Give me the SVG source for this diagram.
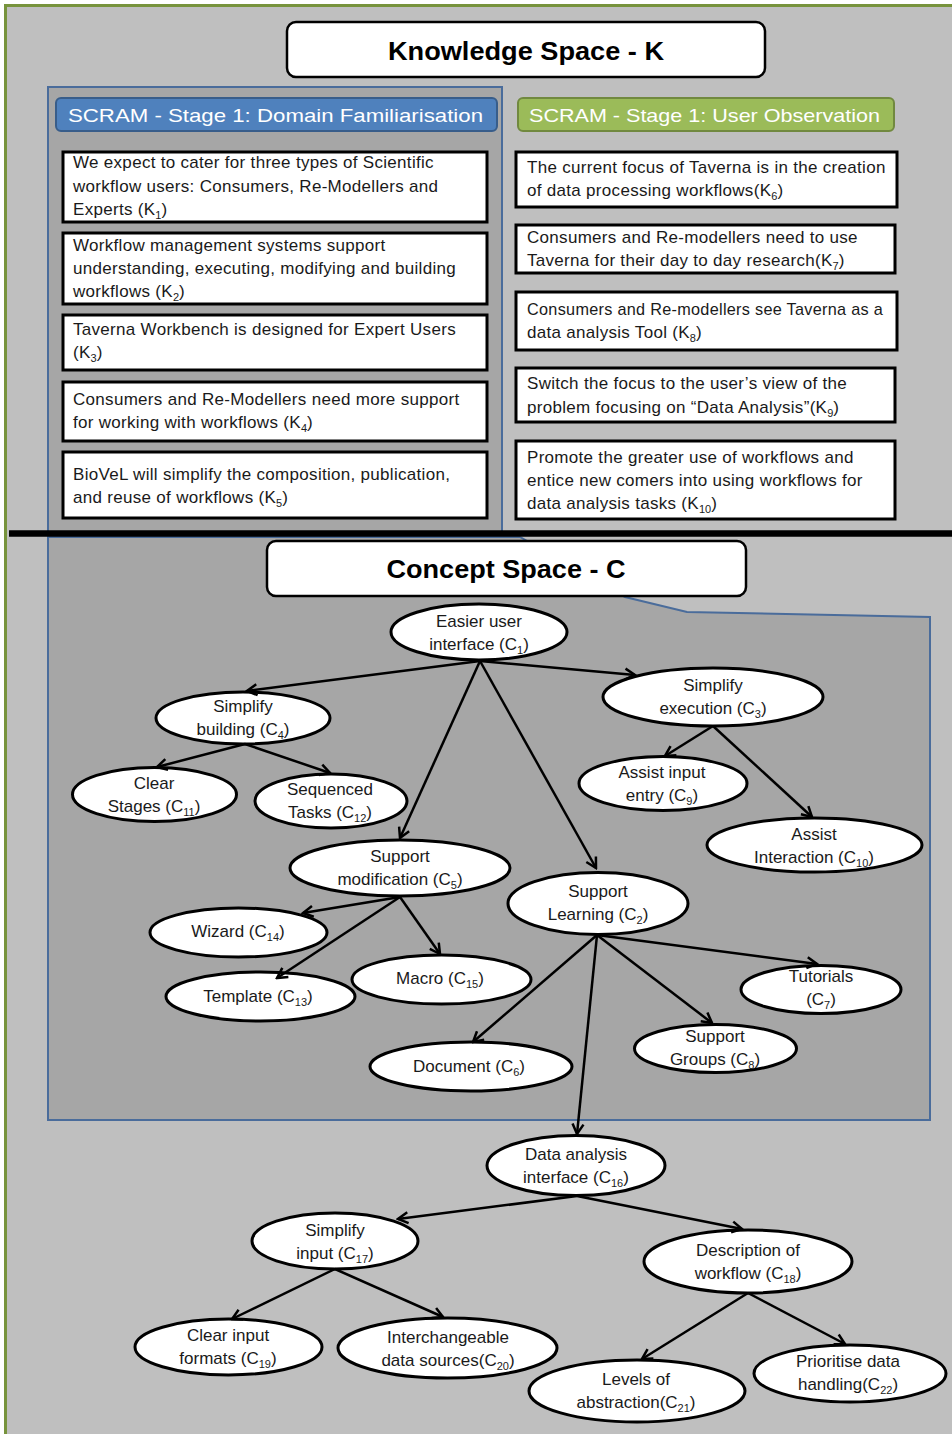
<svg xmlns="http://www.w3.org/2000/svg" width="952" height="1434" viewBox="0 0 952 1434">
  <defs>
    <style>
      .frame { fill: #bfbfbf; stroke: #77933c; stroke-width: 3; }
      .panel { fill: #a6a6a6; stroke: #4a6c9b; stroke-width: 2; }
      .title-box { fill: #ffffff; stroke: #000000; stroke-width: 2.5; }
      .title { font-family: "Liberation Sans", Arial, sans-serif; font-weight: bold; font-size: 25px; fill: #000; text-anchor: middle; }
      .pill-blue { fill: #4f81bd; stroke: #385d8a; stroke-width: 2; }
      .pill-green { fill: #9bbb59; stroke: #71893f; stroke-width: 2; }
      .pill-text { font-family: "Liberation Sans", Arial, sans-serif; font-size: 19px; fill: #ffffff; }
      .kbox { fill: #ffffff; stroke: #000000; stroke-width: 3; }
      .ktext { font-family: "Liberation Sans", Arial, sans-serif; font-size: 17px; letter-spacing: 0.3px; fill: #1a1a1a; }
      .node { fill: #ffffff; stroke: #000000; stroke-width: 3; }
      .ntext { font-family: "Liberation Sans", Arial, sans-serif; font-size: 17px; fill: #1a1a1a; text-anchor: middle; }
      .sub { font-size: 11px; letter-spacing: 0; }
      .edge { stroke: #000000; stroke-width: 2.5; fill: none; marker-end: url(#arrow); }
    </style>
    <marker id="arrow" markerUnits="userSpaceOnUse" markerWidth="14" markerHeight="14" viewBox="0 0 14 14" refX="12" refY="7" orient="auto">
      <path d="M2,1.5 L12,7 L2,12.5" fill="none" stroke="#000" stroke-width="2.5"/>
    </marker>
  </defs>

  <!-- page background and outer frame -->
  <rect x="0" y="0" width="952" height="1434" fill="#ffffff"/>
  <rect class="frame" x="5.5" y="5.5" width="970" height="1450"/>

  <!-- knowledge space: domain familiarisation panel -->
  <rect class="panel" x="48" y="87" width="454" height="452"/>

  <!-- concept space region -->
  <polygon class="panel" points="48,537 520,537 625,597 687,612 930,617 930,1120 48,1120"/>

  <!-- divider between the two spaces -->
  <line x1="9" y1="533.5" x2="952" y2="533.5" stroke="#000" stroke-width="6.5"/>

  <!-- titles -->
  <g id="title-knowledge">
    <rect class="title-box" x="287" y="22" width="478" height="55" rx="9"/>
    <text class="title" x="526" y="60" textLength="276" lengthAdjust="spacingAndGlyphs">Knowledge Space - K</text>
  </g>
  <g id="title-concept">
    <rect class="title-box" x="267" y="541" width="479" height="55" rx="9"/>
    <text class="title" x="506" y="578" textLength="239" lengthAdjust="spacingAndGlyphs">Concept Space - C</text>
  </g>

  <!-- stage headers -->
  <g id="stage-domain">
    <rect class="pill-blue" x="56" y="98" width="441" height="33" rx="5"/>
    <text class="pill-text" x="68" y="122" textLength="415" lengthAdjust="spacingAndGlyphs">SCRAM -  Stage 1: Domain Familiarisation</text>
  </g>
  <g id="stage-observation">
    <rect class="pill-green" x="518" y="98" width="376" height="33" rx="5"/>
    <text class="pill-text" x="529" y="122" textLength="351" lengthAdjust="spacingAndGlyphs">SCRAM - Stage 1: User Observation</text>
  </g>

  <!-- knowledge statements, left column -->
  <g id="K1">
    <rect class="kbox" x="63" y="152" width="424" height="70"/>
    <text class="ktext" x="73" y="168">We expect to cater for three types of Scientific</text>
    <text class="ktext" x="73" y="192">workflow users: Consumers, Re-Modellers and</text>
    <text class="ktext" x="73" y="215">Experts (K<tspan class="sub" dy="4">1</tspan><tspan dy="-4">)</tspan></text>
  </g>
  <g id="K2">
    <rect class="kbox" x="63" y="233" width="424" height="71"/>
    <text class="ktext" x="73" y="251">Workflow management systems support</text>
    <text class="ktext" x="73" y="274">understanding, executing, modifying and building</text>
    <text class="ktext" x="73" y="297">workflows (K<tspan class="sub" dy="4">2</tspan><tspan dy="-4">)</tspan></text>
  </g>
  <g id="K3">
    <rect class="kbox" x="63" y="315" width="424" height="55"/>
    <text class="ktext" x="73" y="335">Taverna Workbench is designed  for Expert Users</text>
    <text class="ktext" x="73" y="358">(K<tspan class="sub" dy="4">3</tspan><tspan dy="-4">)</tspan></text>
  </g>
  <g id="K4">
    <rect class="kbox" x="63" y="382" width="424" height="59"/>
    <text class="ktext" x="73" y="405">Consumers and Re-Modellers need  more support</text>
    <text class="ktext" x="73" y="428">for working with workflows (K<tspan class="sub" dy="4">4</tspan><tspan dy="-4">)</tspan></text>
  </g>
  <g id="K5">
    <rect class="kbox" x="63" y="452" width="424" height="66"/>
    <text class="ktext" x="73" y="480">BioVeL  will simplify the composition, publication,</text>
    <text class="ktext" x="73" y="503">and reuse of workflows (K<tspan class="sub" dy="4">5</tspan><tspan dy="-4">)</tspan></text>
  </g>

  <!-- knowledge statements, right column -->
  <g id="K6">
    <rect class="kbox" x="516" y="152" width="381" height="55"/>
    <text class="ktext" x="527" y="173">The current focus of Taverna is in the creation</text>
    <text class="ktext" x="527" y="196">of data processing workflows(K<tspan class="sub" dy="4">6</tspan><tspan dy="-4">)</tspan></text>
  </g>
  <g id="K7">
    <rect class="kbox" x="516" y="225" width="379" height="48"/>
    <text class="ktext" x="527" y="243">Consumers and Re-modellers need to use</text>
    <text class="ktext" x="527" y="266">Taverna for their day to day research(K<tspan class="sub" dy="4">7</tspan><tspan dy="-4">)</tspan></text>
  </g>
  <g id="K8">
    <rect class="kbox" x="516" y="292" width="381" height="58"/>
    <text class="ktext" x="527" y="315" textLength="356" lengthAdjust="spacingAndGlyphs">Consumers and Re-modellers see Taverna as a</text>
    <text class="ktext" x="527" y="338">data analysis Tool (K<tspan class="sub" dy="4">8</tspan><tspan dy="-4">)</tspan></text>
  </g>
  <g id="K9">
    <rect class="kbox" x="516" y="368" width="379" height="54"/>
    <text class="ktext" x="527" y="389">Switch the focus to the user’s view of the</text>
    <text class="ktext" x="527" y="413">problem focusing on “Data Analysis”(K<tspan class="sub" dy="4">9</tspan><tspan dy="-4">)</tspan></text>
  </g>
  <g id="K10">
    <rect class="kbox" x="516" y="441" width="379" height="78"/>
    <text class="ktext" x="527" y="463">Promote the greater use of workflows and</text>
    <text class="ktext" x="527" y="486">entice new comers into using workflows for</text>
    <text class="ktext" x="527" y="509">data analysis tasks (K<tspan class="sub" dy="4">10</tspan><tspan dy="-4">)</tspan></text>
  </g>

  <!-- concept nodes -->
  <g id="C1">
    <ellipse class="node" cx="479" cy="632" rx="88" ry="28"/>
    <text class="ntext" x="479" y="627">Easier user</text>
    <text class="ntext" x="479" y="650">interface (C<tspan class="sub" dy="4">1</tspan><tspan dy="-4">)</tspan></text>
  </g>
  <g id="C4">
    <ellipse class="node" cx="243" cy="718" rx="87" ry="26"/>
    <text class="ntext" x="243" y="712">Simplify</text>
    <text class="ntext" x="243" y="735">building (C<tspan class="sub" dy="4">4</tspan><tspan dy="-4">)</tspan></text>
  </g>
  <g id="C3">
    <ellipse class="node" cx="713" cy="697" rx="110" ry="29"/>
    <text class="ntext" x="713" y="691">Simplify</text>
    <text class="ntext" x="713" y="714">execution (C<tspan class="sub" dy="4">3</tspan><tspan dy="-4">)</tspan></text>
  </g>
  <g id="C11">
    <ellipse class="node" cx="154.5" cy="794.5" rx="82" ry="27"/>
    <text class="ntext" x="154" y="789">Clear</text>
    <text class="ntext" x="154" y="812">Stages (C<tspan class="sub" dy="4">11</tspan><tspan dy="-4">)</tspan></text>
  </g>
  <g id="C12">
    <ellipse class="node" cx="331" cy="801" rx="76" ry="27"/>
    <text class="ntext" x="330" y="795">Sequenced</text>
    <text class="ntext" x="330" y="818">Tasks (C<tspan class="sub" dy="4">12</tspan><tspan dy="-4">)</tspan></text>
  </g>
  <g id="C9">
    <ellipse class="node" cx="663" cy="783.5" rx="84" ry="27"/>
    <text class="ntext" x="662" y="778">Assist input</text>
    <text class="ntext" x="662" y="801">entry (C<tspan class="sub" dy="4">9</tspan><tspan dy="-4">)</tspan></text>
  </g>
  <g id="C10">
    <ellipse class="node" cx="814.5" cy="845" rx="107.5" ry="27"/>
    <text class="ntext" x="814" y="840">Assist</text>
    <text class="ntext" x="814" y="863">Interaction (C<tspan class="sub" dy="4">10</tspan><tspan dy="-4">)</tspan></text>
  </g>
  <g id="C5">
    <ellipse class="node" cx="400" cy="868" rx="110" ry="28"/>
    <text class="ntext" x="400" y="862">Support</text>
    <text class="ntext" x="400" y="885">modification (C<tspan class="sub" dy="4">5</tspan><tspan dy="-4">)</tspan></text>
  </g>
  <g id="C2">
    <ellipse class="node" cx="598" cy="903.5" rx="90" ry="31"/>
    <text class="ntext" x="598" y="897">Support</text>
    <text class="ntext" x="598" y="920">Learning (C<tspan class="sub" dy="4">2</tspan><tspan dy="-4">)</tspan></text>
  </g>
  <g id="C14">
    <ellipse class="node" cx="238.5" cy="932.5" rx="88.5" ry="24.5"/>
    <text class="ntext" x="238" y="937">Wizard (C<tspan class="sub" dy="4">14</tspan><tspan dy="-4">)</tspan></text>
  </g>
  <g id="C15">
    <ellipse class="node" cx="441.5" cy="979.5" rx="89.5" ry="24.5"/>
    <text class="ntext" x="440" y="984">Macro (C<tspan class="sub" dy="4">15</tspan><tspan dy="-4">)</tspan></text>
  </g>
  <g id="C13">
    <ellipse class="node" cx="260.5" cy="996.5" rx="94.5" ry="24.5"/>
    <text class="ntext" x="258" y="1002">Template (C<tspan class="sub" dy="4">13</tspan><tspan dy="-4">)</tspan></text>
  </g>
  <g id="C7">
    <ellipse class="node" cx="821" cy="989.5" rx="80" ry="24"/>
    <text class="ntext" x="821" y="982">Tutorials</text>
    <text class="ntext" x="821" y="1005">(C<tspan class="sub" dy="4">7</tspan><tspan dy="-4">)</tspan></text>
  </g>
  <g id="C8">
    <ellipse class="node" cx="715.5" cy="1048.5" rx="81" ry="24"/>
    <text class="ntext" x="715" y="1042">Support</text>
    <text class="ntext" x="715" y="1065">Groups (C<tspan class="sub" dy="4">8</tspan><tspan dy="-4">)</tspan></text>
  </g>
  <g id="C6">
    <ellipse class="node" cx="471" cy="1066.5" rx="101" ry="24.5"/>
    <text class="ntext" x="469" y="1072">Document (C<tspan class="sub" dy="4">6</tspan><tspan dy="-4">)</tspan></text>
  </g>
  <g id="C16">
    <ellipse class="node" cx="576" cy="1165.5" rx="89" ry="30"/>
    <text class="ntext" x="576" y="1160">Data analysis</text>
    <text class="ntext" x="576" y="1183">interface (C<tspan class="sub" dy="4">16</tspan><tspan dy="-4">)</tspan></text>
  </g>
  <g id="C17">
    <ellipse class="node" cx="335" cy="1241" rx="83" ry="28"/>
    <text class="ntext" x="335" y="1236">Simplify</text>
    <text class="ntext" x="335" y="1259">input (C<tspan class="sub" dy="4">17</tspan><tspan dy="-4">)</tspan></text>
  </g>
  <g id="C18">
    <ellipse class="node" cx="748" cy="1261.5" rx="104" ry="31.5"/>
    <text class="ntext" x="748" y="1256">Description of</text>
    <text class="ntext" x="748" y="1279">workflow (C<tspan class="sub" dy="4">18</tspan><tspan dy="-4">)</tspan></text>
  </g>
  <g id="C19">
    <ellipse class="node" cx="228.5" cy="1347" rx="93.5" ry="28"/>
    <text class="ntext" x="228" y="1341">Clear input</text>
    <text class="ntext" x="228" y="1364">formats (C<tspan class="sub" dy="4">19</tspan><tspan dy="-4">)</tspan></text>
  </g>
  <g id="C20">
    <ellipse class="node" cx="447.5" cy="1348" rx="109.5" ry="30"/>
    <text class="ntext" x="448" y="1343">Interchangeable</text>
    <text class="ntext" x="448" y="1366">data sources(C<tspan class="sub" dy="4">20</tspan><tspan dy="-4">)</tspan></text>
  </g>
  <g id="C21">
    <ellipse class="node" cx="637" cy="1391" rx="108" ry="31"/>
    <text class="ntext" x="636" y="1385">Levels of</text>
    <text class="ntext" x="636" y="1408">abstraction(C<tspan class="sub" dy="4">21</tspan><tspan dy="-4">)</tspan></text>
  </g>
  <g id="C22">
    <ellipse class="node" cx="850" cy="1373.5" rx="96" ry="28.5"/>
    <text class="ntext" x="848" y="1367">Prioritise data</text>
    <text class="ntext" x="848" y="1390">handling(C<tspan class="sub" dy="4">22</tspan><tspan dy="-4">)</tspan></text>
  </g>

  <!-- connectors -->
  <g id="connectors">
    <line class="edge" x1="480" y1="661" x2="247" y2="691"/>
    <line class="edge" x1="480" y1="661" x2="635" y2="675"/>
    <line class="edge" x1="480" y1="661" x2="400" y2="838"/>
    <line class="edge" x1="480" y1="661" x2="596" y2="868"/>
    <line class="edge" x1="245" y1="744" x2="157" y2="767"/>
    <line class="edge" x1="245" y1="744" x2="330" y2="773"/>
    <line class="edge" x1="713" y1="726" x2="665" y2="756"/>
    <line class="edge" x1="713" y1="726" x2="812" y2="817"/>
    <line class="edge" x1="400" y1="897" x2="303" y2="913"/>
    <line class="edge" x1="400" y1="897" x2="277" y2="978"/>
    <line class="edge" x1="400" y1="897" x2="440" y2="954"/>
    <line class="edge" x1="597" y1="935" x2="473" y2="1042"/>
    <line class="edge" x1="597" y1="935" x2="712" y2="1023"/>
    <line class="edge" x1="597" y1="935" x2="817" y2="964"/>
    <line class="edge" x1="597" y1="935" x2="577" y2="1134"/>
    <line class="edge" x1="577" y1="1196" x2="398" y2="1219"/>
    <line class="edge" x1="577" y1="1196" x2="742" y2="1229"/>
    <line class="edge" x1="335" y1="1269" x2="232" y2="1319"/>
    <line class="edge" x1="335" y1="1269" x2="443" y2="1317"/>
    <line class="edge" x1="748" y1="1293" x2="642" y2="1359"/>
    <line class="edge" x1="748" y1="1293" x2="845" y2="1344"/>
  </g>
</svg>
